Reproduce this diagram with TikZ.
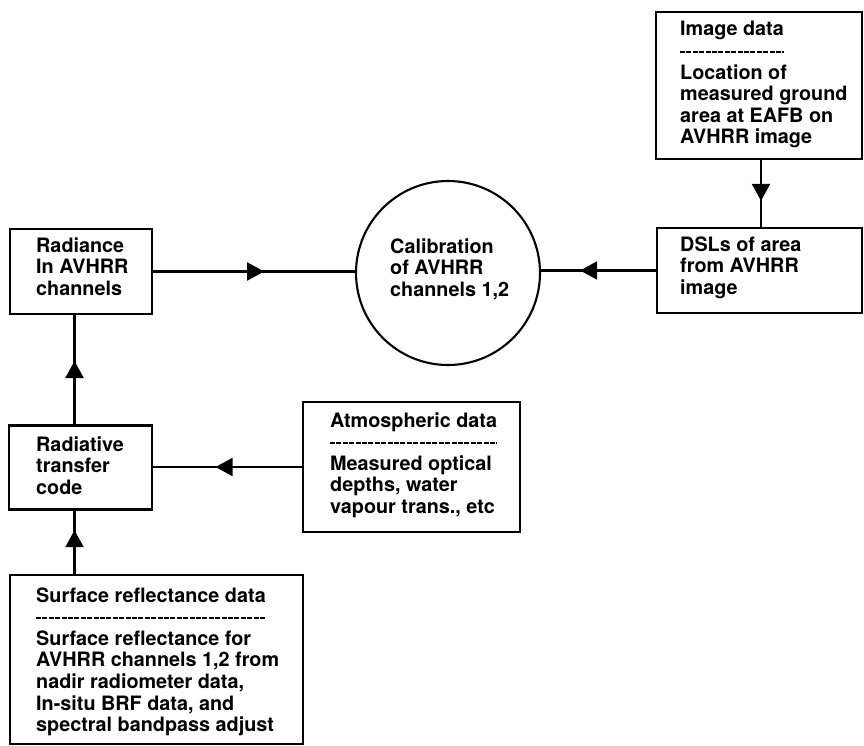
\documentclass[tikz,border=0pt]{standalone}
\usepackage{fontspec}
\setmainfont{TeX Gyre Heros}
\usetikzlibrary{arrows.meta,decorations.markings}
\newcommand\firstrule{\rule{0pt}{15pt}}
\begin{document}
\begin{tikzpicture}[x=1pt,y=-1pt,
  box/.style={draw, line width=2.1pt, inner sep=0pt},
  txt/.style={inner sep=0pt, align=left, anchor=north west, font=\fontsize{19.8}{21.6}\selectfont\bfseries},
  head/.style={inner sep=0pt, anchor=base west, font=\fontsize{19.8}{21.6}\selectfont\bfseries},
  sepline/.style={line width=1.8pt, dash pattern=on 5pt off 1.4pt},
  conn/.style={line width=2.2pt},
  marrow/.style={decoration={markings, mark=at position #1 with {\arrow{Triangle[length=17pt,width=18pt]}}}, postaction=decorate}
]
\useasboundingbox (0,0) rectangle (864,746);

% boxes
\node[box, minimum width=206pt, minimum height=147pt] (img) at (759,85.5) {};
\node[box, minimum width=205pt, minimum height=85pt] (dsl) at (759.5,270.5) {};
\node[box, circle, minimum size=184pt] (cal) at (448,273) {};
\node[box, minimum width=142pt, minimum height=85pt] (rad) at (81,271.5) {};
\node[box, minimum width=143pt, minimum height=84pt] (rtc) at (80.5,467.5) {};
\node[box, minimum width=217pt, minimum height=130pt] (atm) at (411.5,467) {};
\node[box, minimum width=293pt, minimum height=169pt] (srf) at (156.5,659.5) {};

% texts
\node[head] (himg) at (680,36) {Image data};
\draw[sepline] ([yshift=-16pt]himg.base west) -- ([yshift=-16pt]himg.base east);
\node[txt] (bimg) at (680,64) {\firstrule Location of\\measured ground\\area at EAFB on\\AVHRR image};

\node[txt] (tdsl) at (680,236) {\firstrule DSLs of area\\from AVHRR\\image};
\node[txt] (tcal) at (390,238) {\firstrule Calibration\\of AVHRR\\channels 1,2};
\node[txt] (trad) at (36,237) {\firstrule Radiance\\In AVHRR\\channels};
\node[txt] (trtc) at (36,436) {\firstrule Radiative\\transfer\\code};

\node[head] (hatm) at (330,427) {Atmospheric data};
\draw[sepline] ([yshift=-16pt]hatm.base west) -- ([yshift=-16pt]hatm.base east);
\node[txt] (batm) at (330,455) {\firstrule Measured optical\\depths, water\\vapour trans., etc};

\node[head] (hsrf) at (36,602) {Surface reflectance data};
\draw[sepline] ([yshift=-16pt]hsrf.base west) -- ([yshift=-16pt]hsrf.base east);
\node[txt] (bsrf) at (36,630) {\firstrule Surface reflectance for\\AVHRR channels 1,2 from\\nadir radiometer data,\\In-situ BRF data, and\\spectral bandpass adjust};

% connectors
\draw[conn, marrow=0.55] (rad.east) -- (rad.east -| cal.west);
\draw[conn, marrow=0.66] (dsl.west) -- (dsl.west -| cal.east);
\draw[conn, marrow=0.61] ([xshift=2pt]img.south) -- ([xshift=2pt]img.south |- dsl.north);
\draw[conn, marrow=0.58] ([xshift=-6pt]rtc.north) -- ([xshift=-6pt]rtc.north |- rad.south);
\draw[conn, marrow=0.58] (atm.west) -- (atm.west -| rtc.east);
\draw[conn, marrow=0.69] ([xshift=-6pt]rtc.south |- srf.north) -- ([xshift=-6pt]rtc.south);
\end{tikzpicture}
\end{document}
